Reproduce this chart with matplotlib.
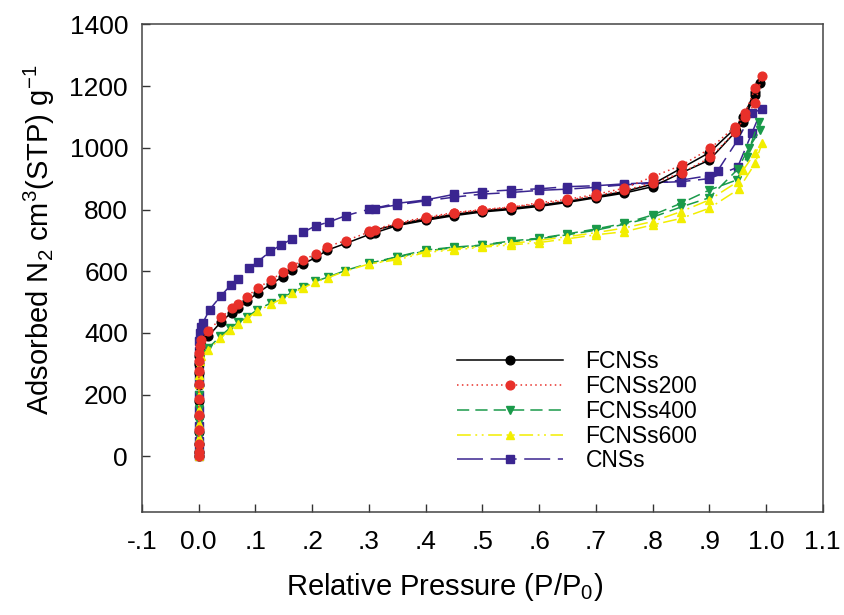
import matplotlib
matplotlib.use("Agg")
import matplotlib.pyplot as plt

plt.rcParams['font.family'] = ['Liberation Sans', 'DejaVu Sans']
plt.rcParams['mathtext.default'] = 'regular'

# ---- data ----
tail_p = [1e-6, 5e-6, 1e-5, 2e-5, 5e-5, 1e-4, 2e-4, 4e-4, 7e-4, 1.2e-3, 2e-3, 4e-3]

fcns_p = tail_p + [0.017, 0.04, 0.058, 0.07, 0.085, 0.104, 0.127, 0.148, 0.165, 0.184, 0.207, 0.226,
                   0.259, 0.302, 0.311, 0.35, 0.40, 0.45, 0.50, 0.55, 0.60, 0.65, 0.70, 0.75, 0.80,
                   0.85, 0.90, 0.948, 0.96, 0.98, 0.99,
                   0.98, 0.96, 0.945, 0.90, 0.85, 0.80, 0.75, 0.70, 0.65, 0.60, 0.55, 0.50, 0.45,
                   0.40, 0.35, 0.30]
fcns_v = [0, 15, 40, 80, 130, 180, 230, 270, 300, 325, 345, 362,
          390, 437, 466, 480, 503, 530, 558, 582, 603, 624, 645, 668,
          690, 720, 725, 748, 765, 780, 792, 800, 810, 823, 838, 853, 874,
          918, 960, 1055, 1084, 1171, 1211,
          1180, 1100, 1062, 984, 933, 882, 858, 842, 826, 814, 804, 796, 784,
          770, 752, 728]

fcns200_p = tail_p + [0.017, 0.04, 0.058, 0.07, 0.085, 0.104, 0.127, 0.148, 0.165, 0.184, 0.207, 0.226,
                      0.259, 0.302, 0.311, 0.352, 0.40, 0.45, 0.50, 0.55, 0.60, 0.65, 0.70, 0.75, 0.80,
                      0.852, 0.902, 0.945, 0.963, 0.981, 0.993,
                      0.981, 0.963, 0.945, 0.902, 0.852, 0.80, 0.75, 0.70, 0.65, 0.60, 0.55, 0.50,
                      0.45, 0.40, 0.35, 0.30]
fcns200_v = [0, 15, 40, 85, 135, 185, 235, 278, 310, 335, 358, 378,
             405, 451, 480, 494, 518, 545, 572, 596, 617, 637, 656, 680,
             699, 728, 732, 755, 772, 788, 799, 807, 822, 833, 849, 869, 906,
             944, 998, 1068, 1112, 1193, 1232,
             1144, 1100, 1050, 969, 919, 885, 862, 845, 830, 818, 808, 800,
             790, 775, 757, 730]

fcns400_p = tail_p + [0.017, 0.038, 0.055, 0.07, 0.085, 0.103, 0.127, 0.146, 0.164, 0.183, 0.205, 0.228,
                      0.258, 0.301, 0.35, 0.40, 0.45, 0.50, 0.55, 0.60, 0.65, 0.70, 0.75, 0.80,
                      0.85, 0.90, 0.949, 0.966, 0.987,
                      0.99, 0.97, 0.95, 0.90, 0.85, 0.80, 0.75, 0.70, 0.65, 0.60, 0.55, 0.50,
                      0.45, 0.40, 0.35, 0.30]
fcns400_v = [0, 10, 30, 65, 110, 155, 200, 240, 270, 295, 315, 332,
             351, 389, 416, 434, 451, 475, 497, 513, 531, 548, 567, 581,
             602, 626, 647, 669, 678, 685, 698, 707, 721, 737, 755, 782,
             820, 863, 896, 971, 1085,
             1058, 1000, 930, 838, 808, 775, 752, 733, 718, 705, 695, 684,
             676, 666, 645, 624]

fcns600_p = tail_p + [0.017, 0.038, 0.055, 0.07, 0.085, 0.103, 0.127, 0.146, 0.164, 0.183, 0.205, 0.228,
                      0.258, 0.301, 0.35, 0.40, 0.45, 0.50, 0.55, 0.60, 0.65, 0.70, 0.75, 0.80,
                      0.85, 0.90, 0.952, 0.981, 0.993,
                      0.98, 0.96, 0.95, 0.90, 0.85, 0.80, 0.75, 0.70, 0.65, 0.60, 0.55, 0.50,
                      0.45, 0.40, 0.35, 0.30]
fcns600_v = [0, 10, 28, 60, 105, 150, 195, 235, 265, 290, 310, 327,
             345, 383, 410, 430, 447, 470, 493, 510, 528, 545, 564, 579,
             600, 624, 637, 661, 669, 678, 685, 693, 705, 718, 728, 750,
             771, 804, 866, 950, 1015,
             982, 928, 890, 831, 793, 761, 740, 725, 712, 700, 690, 681,
             673, 664, 642, 622]

cnss_p = tail_p + [0.007, 0.019, 0.039, 0.057, 0.069, 0.089, 0.104, 0.126, 0.145, 0.165, 0.184, 0.206,
                   0.229, 0.259, 0.301, 0.35, 0.40, 0.45, 0.50, 0.55, 0.60, 0.65, 0.70, 0.75, 0.80,
                   0.85, 0.90, 0.95, 0.975, 0.993,
                   0.975, 0.95, 0.915, 0.90, 0.85, 0.80, 0.75, 0.70, 0.65, 0.60, 0.55, 0.50,
                   0.45, 0.40, 0.35, 0.31]
cnss_v = [0, 20, 50, 100, 150, 200, 250, 300, 340, 375, 400, 418,
          432, 475, 520, 556, 574, 610, 631, 664, 685, 705, 726, 747,
          759, 780, 801, 820, 831, 849, 858, 863, 867, 874, 877, 883, 887,
          890, 900, 937, 1047, 1126,
          1112, 1025, 926, 910, 895, 885, 880, 872, 866, 862, 855, 850,
          840, 828, 815, 803]

series_names = ['FCNSs', 'FCNSs200', 'FCNSs400', 'FCNSs600', 'CNSs']
x_ticks = [-0.1, 0.0, 0.1, 0.2, 0.3, 0.4, 0.5, 0.6, 0.7, 0.8, 0.9, 1.0, 1.1]
x_tick_labels = ['-.1', '0.0', '.1', '.2', '.3', '.4', '.5', '.6', '.7', '.8', '.9', '1.0', '1.1']
y_ticks = [0, 200, 400, 600, 800, 1000, 1200, 1400]

# ---- figure ----
fig = plt.figure(figsize=(8.45, 6.15), dpi=100)
ax = fig.add_axes([142 / 845, 1 - 512 / 615, (822.7 - 142) / 845, (512 - 24.3) / 615])

purple = '#3a2590'
green = '#1a9a4a'
yellow = '#f2ee00'
red = '#e8302a'

ms = 6.3
lw = 1.1
ax.plot(fcns_p, fcns_v, color='black', lw=lw, ls='-', marker='o', ms=ms,
        mfc='black', mec='black', label=series_names[0], zorder=3)
ax.plot(fcns200_p, fcns200_v, color=red, lw=lw, ls=(0, (1, 2.2)), marker='o', ms=ms,
        mfc=red, mec=red, label=series_names[1], zorder=4)
ax.plot(fcns400_p, fcns400_v, color=green, lw=lw, ls=(0, (8, 4)), marker='v', ms=ms,
        mfc=green, mec=green, label=series_names[2], zorder=3)
ax.plot(fcns600_p, fcns600_v, color=yellow, lw=lw, ls=(0, (9, 3, 1.2, 3, 1.2, 3)), marker='^', ms=ms,
        mfc=yellow, mec=yellow, label=series_names[3], zorder=3)
ax.plot(cnss_p, cnss_v, color=purple, lw=lw, ls=(0, (17, 5)), marker='s', ms=ms - 0.5,
        mfc=purple, mec=purple, label=series_names[4], zorder=2)

ax.set_xlim(-0.1, 1.1)
ax.set_ylim(-180, 1400)
ax.set_xticks(x_ticks)
ax.set_xticklabels(x_tick_labels)
ax.set_yticks(y_ticks)
ax.tick_params(direction='in', length=6, width=1, labelsize=19, pad=10, color='#333333')
ax.tick_params(axis='x', pad=13)
for s in ax.spines.values():
    s.set_linewidth(1.1)
    s.set_color('#444444')

ax.set_xlabel('Relative Pressure (P/P$_0$)', fontsize=21)
ax.set_ylabel('Adsorbed N$_2$ cm$^3$(STP) g$^{-1}$', fontsize=21)
ax.xaxis.set_label_coords(0.444, -0.122)
ax.yaxis.set_label_coords(-0.125, 0.558)

leg = ax.legend(loc='upper left', bbox_to_anchor=(0.463, 0.332), frameon=False, fontsize=16.5,
                handlelength=4.6, handletextpad=1.0, labelspacing=0.08, numpoints=1,
                borderaxespad=0, borderpad=0, markerscale=1.0)

fig.savefig('out.png', dpi=100)
